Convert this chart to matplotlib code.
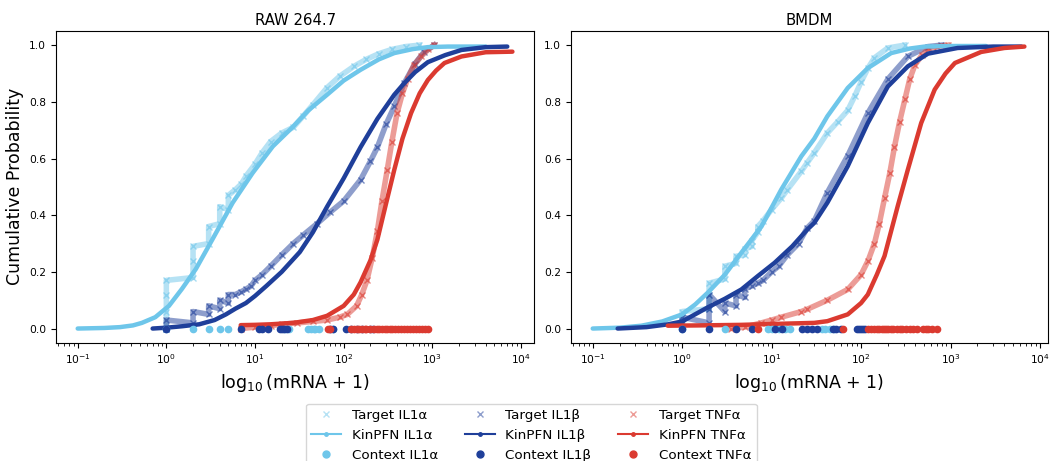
import matplotlib
matplotlib.use("Agg")
import matplotlib.pyplot as plt
from matplotlib.lines import Line2D

# colours
c_il1a = "#6EC6EA"
c_il1b = "#1F3F9A"
c_tnfa = "#DB3A30"

# ---------------- RAW 264.7 ----------------
raw_kin_il1a_x = [0.1, 0.2, 0.3, 0.42, 0.53, 0.75, 1.07, 1.5, 2.15, 3.3, 5.6, 9.4, 15.9, 27, 40, 65, 100, 155, 250, 372, 600, 890, 1500, 4000]
raw_kin_il1a_y = [0.0, 0.002, 0.005, 0.011, 0.02, 0.04, 0.08, 0.14, 0.21, 0.314, 0.444, 0.549, 0.643, 0.713, 0.77, 0.825, 0.875, 0.913, 0.95, 0.972, 0.986, 0.993, 0.995, 0.995]
raw_tgt_il1a_x = [1, 1, 1, 1, 2, 2, 2, 3, 3, 4, 4, 5, 5, 6, 7, 8, 10, 12, 15, 20, 27, 35, 45, 65, 90, 130, 180, 250, 350, 500, 710]
raw_tgt_il1a_y = [0.0, 0.06, 0.12, 0.17, 0.18, 0.24, 0.29, 0.30, 0.36, 0.37, 0.43, 0.42, 0.47, 0.49, 0.51, 0.54, 0.58, 0.62, 0.66, 0.69, 0.71, 0.75, 0.79, 0.85, 0.89, 0.925, 0.95, 0.97, 0.985, 0.995, 1.0]
raw_ctx_il1a = [1, 2, 3, 4, 5, 22, 24, 40, 43, 46, 48, 52, 75]

raw_kin_il1b_x = [0.7, 1.0, 1.5, 2.35, 3.5, 4.7, 6, 7.9, 10, 13.4, 20, 32, 45, 65, 100, 155, 240, 372, 480, 640, 890, 1400, 2130, 4000, 7000]
raw_kin_il1b_y = [0.0, 0.003, 0.008, 0.015, 0.03, 0.05, 0.07, 0.09, 0.115, 0.15, 0.20, 0.27, 0.34, 0.43, 0.53, 0.64, 0.74, 0.825, 0.865, 0.905, 0.94, 0.965, 0.983, 0.993, 0.995]
raw_tgt_il1b_x = [1, 1, 2, 2, 3, 3, 4, 4, 5, 5, 6, 7, 8, 9, 10, 12, 15, 20, 27, 35, 50, 70, 100, 155, 200, 240, 300, 372, 480, 640, 800, 1050]
raw_tgt_il1b_y = [0.0, 0.03, 0.02, 0.06, 0.05, 0.08, 0.07, 0.10, 0.09, 0.12, 0.12, 0.13, 0.14, 0.15, 0.17, 0.19, 0.22, 0.26, 0.30, 0.33, 0.37, 0.41, 0.45, 0.525, 0.59, 0.64, 0.72, 0.784, 0.865, 0.935, 0.975, 1.0]
raw_ctx_il1b = [1, 7, 11, 12, 14, 19, 20, 21, 23, 70, 75, 105, 120, 140, 160, 200, 215]

raw_kin_tnfa_x = [6.9, 10, 15, 27, 45, 65, 100, 130, 155, 200, 240, 300, 372, 460, 575, 720, 890, 1100, 1370, 2130, 4000, 8000]
raw_kin_tnfa_y = [0.012, 0.013, 0.015, 0.02, 0.03, 0.045, 0.08, 0.12, 0.163, 0.24, 0.314, 0.44, 0.56, 0.67, 0.76, 0.83, 0.877, 0.91, 0.937, 0.96, 0.975, 0.977]
raw_tgt_tnfa_x = [7, 10, 15, 20, 30, 45, 65, 90, 110, 140, 160, 183, 210, 240, 270, 310, 350, 400, 460, 525, 620, 745, 900, 1050]
raw_tgt_tnfa_y = [0.0, 0.005, 0.01, 0.015, 0.02, 0.025, 0.03, 0.04, 0.05, 0.08, 0.12, 0.17, 0.25, 0.345, 0.45, 0.56, 0.66, 0.76, 0.83, 0.88, 0.93, 0.96, 0.985, 1.0]
raw_ctx_tnfa = [66, 70, 120, 130, 140, 150, 160, 175, 180, 200, 220, 240, 250, 270, 290, 310, 330, 350, 380, 410, 440, 480, 520, 560, 600, 650, 700, 760, 820, 900]

# ---------------- BMDM ----------------
bm_kin_il1a_x = [0.1, 0.2, 0.35, 0.6, 1.0, 1.4, 1.94, 3.0, 4.6, 7.7, 12.8, 21.5, 30, 42, 71, 119, 217, 350, 513, 1000, 2500]
bm_kin_il1a_y = [0.0, 0.003, 0.01, 0.025, 0.05, 0.085, 0.127, 0.19, 0.268, 0.36, 0.49, 0.608, 0.67, 0.749, 0.849, 0.919, 0.972, 0.988, 0.995, 0.997, 0.997]
bm_tgt_il1a_x = [1, 1, 1, 2, 2, 2, 3, 3, 4, 4, 5, 5, 6, 6, 7, 7, 8, 10, 12.8, 15, 21.5, 25, 30, 42, 55, 71, 85, 100, 120, 141, 199, 306]
bm_tgt_il1a_y = [0.005, 0.03, 0.06, 0.07, 0.12, 0.16, 0.175, 0.22, 0.23, 0.255, 0.26, 0.28, 0.29, 0.31, 0.34, 0.36, 0.38, 0.42, 0.46, 0.49, 0.555, 0.585, 0.62, 0.69, 0.73, 0.77, 0.82, 0.87, 0.92, 0.955, 0.99, 1.0]
bm_ctx_il1a = [1, 3, 9, 10, 12, 14, 16, 37, 40, 45, 50]

bm_kin_il1b_x = [0.19, 0.4, 0.7, 1.0, 1.94, 3, 4.6, 7, 10.8, 17, 25, 30, 42, 71, 119, 199, 333, 560, 1200, 3000, 6200]
bm_kin_il1b_y = [0.0, 0.005, 0.015, 0.025, 0.075, 0.105, 0.138, 0.185, 0.232, 0.29, 0.349, 0.373, 0.444, 0.573, 0.725, 0.854, 0.925, 0.97, 0.99, 0.995, 0.995]
bm_tgt_il1b_x = [1, 1, 2, 2, 2, 3, 3, 4, 4, 5, 5, 6, 7, 8, 10, 12, 15, 20, 25, 30, 42, 71, 119, 199, 333, 560, 790]
bm_tgt_il1b_y = [0.02, 0.04, 0.02, 0.07, 0.12, 0.06, 0.09, 0.08, 0.12, 0.11, 0.14, 0.15, 0.16, 0.17, 0.20, 0.22, 0.26, 0.30, 0.355, 0.38, 0.48, 0.61, 0.76, 0.88, 0.96, 0.995, 1.0]
bm_ctx_il1b = [1, 2, 4, 6, 11, 13, 22, 25, 28, 32, 48, 52, 60, 90, 95, 100, 105, 110]

bm_kin_tnfa_x = [0.69, 1.5, 4.6, 10, 30, 42, 71, 100, 119, 150, 183, 257, 333, 470, 665, 880, 1120, 2200, 4000, 6700]
bm_kin_tnfa_y = [0.01, 0.011, 0.013, 0.016, 0.02, 0.026, 0.05, 0.09, 0.12, 0.19, 0.256, 0.432, 0.56, 0.725, 0.843, 0.90, 0.937, 0.976, 0.99, 0.995]
bm_tgt_tnfa_x = [3.5, 5, 7.7, 10, 12.8, 21.5, 25, 42, 71, 100, 120, 141, 160, 183, 210, 236, 270, 310, 350, 400, 480, 560, 700, 935]
bm_tgt_tnfa_y = [0.0, 0.005, 0.02, 0.03, 0.04, 0.06, 0.068, 0.10, 0.138, 0.19, 0.24, 0.30, 0.37, 0.46, 0.55, 0.64, 0.73, 0.81, 0.88, 0.93, 0.965, 0.985, 0.995, 1.0]
bm_ctx_tnfa = [7, 63, 120, 130, 140, 150, 160, 170, 180, 190, 200, 215, 230, 250, 270, 290, 320, 350, 380, 420, 490, 530, 560, 620, 700]

panels = [
    ("RAW 264.7", (-1.245, 4.15), [
        (c_il1a, raw_tgt_il1a_x, raw_tgt_il1a_y, raw_kin_il1a_x, raw_kin_il1a_y, raw_ctx_il1a),
        (c_il1b, raw_tgt_il1b_x, raw_tgt_il1b_y, raw_kin_il1b_x, raw_kin_il1b_y, raw_ctx_il1b),
        (c_tnfa, raw_tgt_tnfa_x, raw_tgt_tnfa_y, raw_kin_tnfa_x, raw_kin_tnfa_y, raw_ctx_tnfa),
    ]),
    ("BMDM", (-1.246, 4.09), [
        (c_il1a, bm_tgt_il1a_x, bm_tgt_il1a_y, bm_kin_il1a_x, bm_kin_il1a_y, bm_ctx_il1a),
        (c_il1b, bm_tgt_il1b_x, bm_tgt_il1b_y, bm_kin_il1b_x, bm_kin_il1b_y, bm_ctx_il1b),
        (c_tnfa, bm_tgt_tnfa_x, bm_tgt_tnfa_y, bm_kin_tnfa_x, bm_kin_tnfa_y, bm_ctx_tnfa),
    ]),
]

fig = plt.figure(figsize=(10.52, 4.61), dpi=100)
ax_pos = [[0.0532, 0.2566, 0.4547, 0.6762], [0.5425, 0.2566, 0.4537, 0.6762]]

for i, (title, xl, genes) in enumerate(panels):
    ax = fig.add_axes(ax_pos[i])
    for col, tx, ty, kx, ky, cx in genes:
        # target: dense band of crosses
        ax.plot(tx, ty, color=col, lw=4, alpha=0.5, zorder=2)
        ax.plot(tx, ty, ls="none", marker="x", ms=5, mew=1.0, color=col, alpha=0.6, zorder=2)
        ax.plot(kx, ky, color=col, lw=3.2, solid_capstyle="round", zorder=3)
        ax.plot(cx, [0] * len(cx), ls="none", marker="o", ms=4.5, color=col, zorder=4)
    ax.set_xscale("log")
    ax.set_xlim(10 ** xl[0], 10 ** xl[1])
    ax.set_ylim(-0.05, 1.05)
    ax.set_title(title, fontsize=10.7, pad=4)
    ax.set_xlabel(r"$\log_{10}$(mRNA + 1)", fontsize=12.5)
    ax.tick_params(labelsize=7.7)
    if i == 0:
        ax.set_ylabel("Cumulative Probability", fontsize=12.5)

# legend
names = ["IL1\u03b1", "IL1\u03b2", "TNF\u03b1"]
cols = [c_il1a, c_il1b, c_tnfa]
handles, labels = [], []
for n, c in zip(names, cols):
    handles.append(Line2D([], [], ls="none", marker="x", ms=5, color=c, alpha=0.5))
    labels.append("Target " + n)
    handles.append(Line2D([], [], color=c, lw=1.5, marker=".", ms=5))
    labels.append("KinPFN " + n)
    handles.append(Line2D([], [], ls="none", marker="o", ms=5, color=c))
    labels.append("Context " + n)
fig.legend(handles, labels, ncol=3, loc="upper center", bbox_to_anchor=(0.505, 0.139),
           fontsize=9.7, frameon=True, handlelength=2.2)

fig.savefig("out.png", dpi=100)
